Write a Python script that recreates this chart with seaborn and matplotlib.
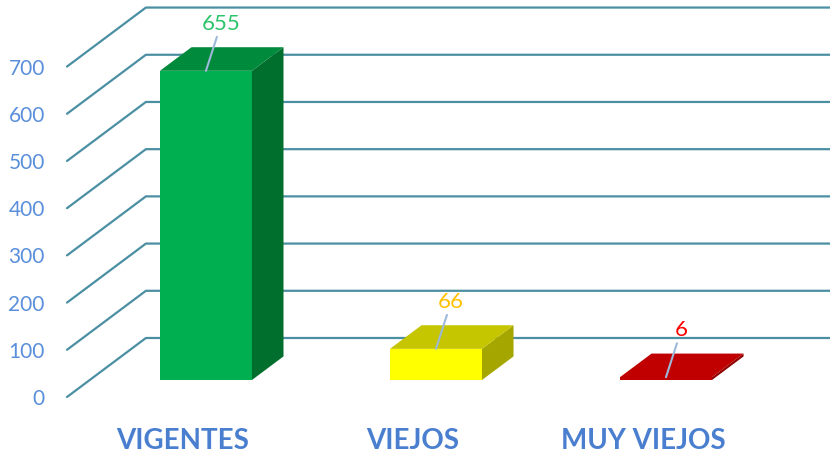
import seaborn as sns
import matplotlib.pyplot as plt
from matplotlib.patches import Polygon
import pandas as pd

sns.set_theme(style="white")
plt.rcParams['font.family'] = ['Lato', 'DejaVu Sans']

# data
categories = ["VIGENTES", "VIEJOS", "MUY VIEJOS"]
values = [655, 66, 6]
y_ticks = [0, 100, 200, 300, 400, 500, 600, 700]

front_colors = ["#00B050", "#FFFF00", "#C00000"]
side_colors = ["#006F2E", "#A6A600", "#900000"]
top_colors = ["#008A3C", "#C6C600", "#C00000"]
label_colors = ["#2BC46A", "#FFC000", "#FF0000"]

# fake 3D geometry (data units)
floor_dx, floor_dy = 0.343, 125      # full floor depth
bar_plane = 0.29                      # where the bar fronts sit in the floor
bar_depth = 0.40                      # bar depth as a fraction of the floor
wall_x = -0.604                       # front-left corner of the floor
floor0 = -36                          # value 0 on the front edge
xmax = 2.713

df = pd.DataFrame({"estado": categories, "cantidad": values})

fig = plt.figure(figsize=(8.3, 4.55), dpi=100)
ax = fig.add_axes([67/830, 58/455, 763/830, 397/455])
sns.barplot(data=df, x="estado", y="cantidad", hue="estado", palette=front_colors,
            width=0.4, saturation=1, legend=False, ax=ax, zorder=3)

# gridlines: diagonal on the side wall, then flat on the back wall
for v in y_ticks:
    xs = [wall_x, wall_x + floor_dx, xmax]
    ys = [v + floor0, v + floor0 + floor_dy, v + floor0 + floor_dy]
    ax.plot(xs, ys, color="#4B8FA3", lw=1.6, zorder=1, clip_on=False)

ddx, ddy = bar_depth * floor_dx, bar_depth * floor_dy
bars = list(ax.patches)
for i, p in enumerate(bars):
    x0, w, h = p.get_x(), p.get_width(), p.get_height()
    p.set_edgecolor("none")
    top = Polygon([(x0, h), (x0 + w, h), (x0 + w + ddx, h + ddy), (x0 + ddx, h + ddy)],
                  closed=True, fc=top_colors[i], ec="none", zorder=3)
    side = Polygon([(x0 + w, 0), (x0 + w, h), (x0 + w + ddx, h + ddy), (x0 + w + ddx, ddy)],
                   closed=True, fc=side_colors[i], ec="none", zorder=3)
    ax.add_patch(side)
    ax.add_patch(top)
    ax.annotate(str(values[i]), xy=(x0 + w / 2, h), xytext=(11, 34),
                textcoords="offset points", ha="center", va="center",
                fontsize=16, color=label_colors[i], zorder=5,
                arrowprops=dict(arrowstyle="-", color="#9DB9DA", lw=1.5,
                                shrinkA=0, shrinkB=0))

# axes labels projected to the front edge
shift = bar_plane * floor_dx
ax.set_xticks([i - shift for i in range(len(categories))], labels=categories)
ax.set_yticks([v + floor0 for v in y_ticks], labels=y_ticks)
ax.tick_params(axis="x", length=0, pad=22, labelsize=20, labelcolor="#4A7FD0")
ax.tick_params(axis="y", length=0, pad=16, labelsize=15, labelcolor="#5A8FDB")
for lbl in ax.get_xticklabels():
    lbl.set_fontweight("bold")

ax.set_xlim(wall_x, xmax)
ax.set_ylim(floor0, 805)
ax.set_xlabel("")
ax.set_ylabel("")
sns.despine(ax=ax, left=True, bottom=True)
ax.grid(False)

fig.savefig("out.png", dpi=100)
